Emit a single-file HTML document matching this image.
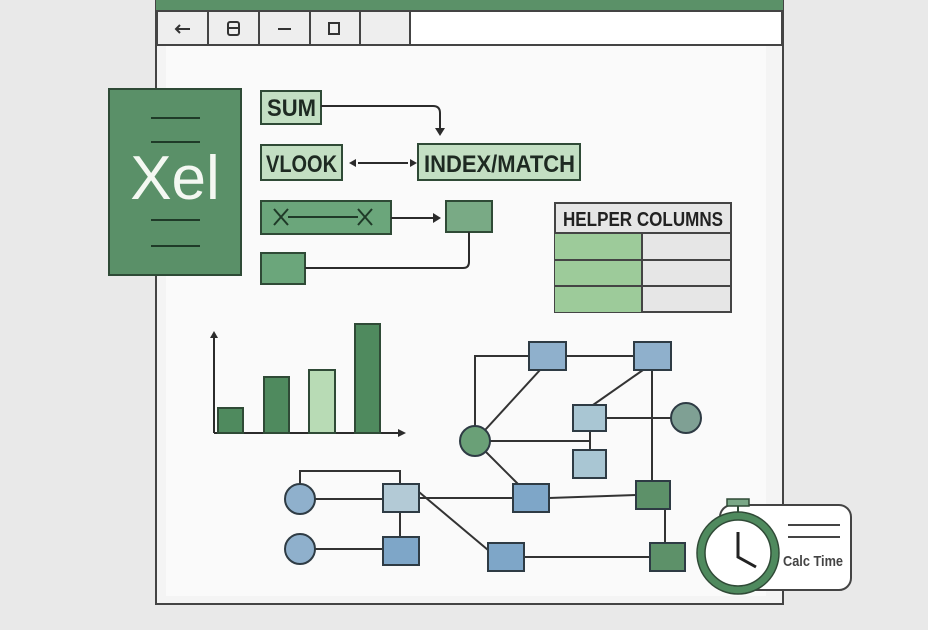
<!DOCTYPE html>
<html><head><meta charset="utf-8"><style>
html,body{margin:0;padding:0;background:#e8e8e8;}
svg{display:block;font-family:"Liberation Sans",sans-serif;}
</style></head><body>
<svg width="928" height="630" viewBox="0 0 928 630">
<rect width="928" height="630" fill="#e9e9e9"/>
<!-- window -->
<rect x="156" y="-2" width="627" height="606" fill="#f4f4f4" stroke="#444" stroke-width="2"/>
<rect x="166" y="46" width="600" height="550" fill="#fafafa"/>
<rect x="156" y="0" width="627" height="11" fill="#5b9168"/>
<rect x="157" y="11" width="625" height="34" fill="#fff" stroke="#444" stroke-width="2"/>
<rect x="157" y="11" width="253" height="34" fill="#eeeeee" stroke="#444" stroke-width="2"/>
<g stroke="#444" stroke-width="2"><line x1="208" y1="11" x2="208" y2="45"/><line x1="259" y1="11" x2="259" y2="45"/><line x1="310" y1="11" x2="310" y2="45"/><line x1="360" y1="11" x2="360" y2="45"/></g>
<g fill="none" stroke="#333" stroke-width="2"><path d="M176 29h14M180 25l-4 4 4 4"/><rect x="228" y="22" width="11" height="13" rx="2"/><line x1="228" y1="28" x2="239" y2="28"/><line x1="278" y1="29" x2="291" y2="29"/><rect x="329" y="23" width="10" height="11"/></g>
<!-- Xel -->
<rect x="109" y="89" width="132" height="186" fill="#5a9068" stroke="#2e4a36" stroke-width="2"/>
<g stroke="#1f3a28" stroke-width="2"><line x1="151" y1="118" x2="200" y2="118"/><line x1="151" y1="142" x2="200" y2="142"/><line x1="151" y1="220" x2="200" y2="220"/><line x1="151" y1="246" x2="200" y2="246"/></g>
<text x="175" y="199" font-size="62" fill="#f4f8f2" text-anchor="middle">Xel</text>
<!-- formula boxes -->
<g stroke="#2f4a36" stroke-width="2">
<rect x="261" y="91" width="60" height="33" fill="#c3dfc3"/>
<rect x="261" y="145" width="81" height="35" fill="#c3dfc3"/>
<rect x="418" y="144" width="162" height="36" fill="#c3dfc3"/>
<rect x="261" y="201" width="130" height="33" fill="#6ba67b"/>
<rect x="446" y="201" width="46" height="31" fill="#79aa85"/>
<rect x="261" y="253" width="44" height="31" fill="#6ba67b"/>
</g>
<g font-size="24" fill="#1e2a22" font-weight="bold" font-family="'Liberation Sans Narrow','Liberation Sans',sans-serif">
<text x="267" y="116" textLength="49" lengthAdjust="spacingAndGlyphs">SUM</text>
<text x="266" y="172" textLength="71" lengthAdjust="spacingAndGlyphs">VLOOK</text>
<text x="424" y="172" textLength="151" lengthAdjust="spacingAndGlyphs">INDEX/MATCH</text>
</g>
<g fill="none" stroke="#2b2b2b" stroke-width="2">
<path d="M321 106h112q7 0 7 7v17"/>
<path d="M358 163h50"/>
<path d="M391 218h44"/>
<path d="M305 268h158q6 0 6-6v-30"/>
<path d="M274 209l14 16M288 209l-14 16M288 217h70M358 209l14 16M372 209l-14 16" stroke="#1f3a28"/>
</g>
<g fill="#2b2b2b"><path d="M435 128l5 8 5-8z"/><path d="M356 159l-7 4 7 4z"/><path d="M410 159l7 4-7 4z"/><path d="M433 213l8 5-8 5z"/></g>
<!-- helper table -->
<rect x="555" y="203" width="176" height="109" fill="#e6e6e6" stroke="#444" stroke-width="2"/>
<rect x="555" y="233" width="87" height="79" fill="#9dcb9a"/>
<g stroke="#444" stroke-width="2"><line x1="555" y1="233" x2="731" y2="233"/><line x1="555" y1="260" x2="731" y2="260"/><line x1="555" y1="286" x2="731" y2="286"/><line x1="642" y1="233" x2="642" y2="312"/></g>
<text x="563" y="226" font-size="20" font-weight="bold" fill="#222" textLength="160" lengthAdjust="spacingAndGlyphs">HELPER COLUMNS</text>
<!-- chart -->
<g fill="none" stroke="#2b2b2b" stroke-width="2"><path d="M214 433V336M214 433H400"/></g>
<g fill="#2b2b2b"><path d="M210 338l4-7 4 7z"/><path d="M398 429l8 4-8 4z"/></g>
<g stroke="#2f4a36" stroke-width="2">
<rect x="218" y="408" width="25" height="25" fill="#4f8a5e"/>
<rect x="264" y="377" width="25" height="56" fill="#4f8a5e"/>
<rect x="309" y="370" width="26" height="63" fill="#b8dbb5"/>
<rect x="355" y="324" width="25" height="109" fill="#4f8a5e"/>
</g>
<!-- network lines -->
<g fill="none" stroke="#333" stroke-width="2">
<path d="M475 441V356h54"/><path d="M475 441L540 370"/><path d="M475 441H590"/><path d="M590 431V450"/><path d="M475 441L518 484"/>
<path d="M566 356h68"/><path d="M643 370L593 405"/><path d="M652 370V481"/><path d="M606 418H671"/>
<path d="M549 498L636 495"/><path d="M665 509V543"/><path d="M524 557H650"/>
<path d="M419 492L488 550"/><path d="M419 498H513"/><path d="M315 499H383"/><path d="M300 484V471H400V484"/><path d="M400 512V537"/><path d="M315 549H383"/>
</g>
<g stroke="#2e3b44" stroke-width="2">
<rect x="529" y="342" width="37" height="28" fill="#8fb0cc"/>
<rect x="634" y="342" width="37" height="28" fill="#8fb0cc"/>
<rect x="573" y="405" width="33" height="26" fill="#a9c6d3"/>
<rect x="573" y="450" width="33" height="28" fill="#a9c6d3"/>
<rect x="513" y="484" width="36" height="28" fill="#7ea6c8"/>
<rect x="488" y="543" width="36" height="28" fill="#7ea6c8"/>
<rect x="383" y="484" width="36" height="28" fill="#b3cad6"/>
<rect x="383" y="537" width="36" height="28" fill="#7ea6c8"/>
<rect x="636" y="481" width="34" height="28" fill="#5d9169"/>
<rect x="650" y="543" width="35" height="28" fill="#5d9169"/>
<circle cx="475" cy="441" r="15" fill="#6aa077"/>
<circle cx="686" cy="418" r="15" fill="#7fa094"/>
<circle cx="300" cy="499" r="15" fill="#8fb0cc"/>
<circle cx="300" cy="549" r="15" fill="#8fb0cc"/>
</g>
<!-- stopwatch -->
<rect x="720" y="505" width="131" height="85" rx="12" fill="#fff" stroke="#444" stroke-width="2"/>
<g stroke="#444" stroke-width="2"><line x1="788" y1="525" x2="840" y2="525"/><line x1="788" y1="537" x2="840" y2="537"/></g>
<text x="783" y="566" font-size="15" font-weight="bold" fill="#444" textLength="60" lengthAdjust="spacingAndGlyphs">Calc Time</text>
<rect x="727" y="499" width="22" height="7" fill="#7aa887" stroke="#2f4a36" stroke-width="1.5"/>
<line x1="738" y1="506" x2="738" y2="515" stroke="#2f4a36" stroke-width="2"/>
<circle cx="738" cy="553" r="37" fill="#fff" stroke="#4f8a5e" stroke-width="7"/>
<circle cx="738" cy="553" r="41" fill="none" stroke="#2f4a36" stroke-width="1.5"/>
<circle cx="738" cy="553" r="33" fill="none" stroke="#2f4a36" stroke-width="1.5"/>
<path d="M738 532V557L756 567" fill="none" stroke="#222" stroke-width="3"/>
</svg>
</body></html>
